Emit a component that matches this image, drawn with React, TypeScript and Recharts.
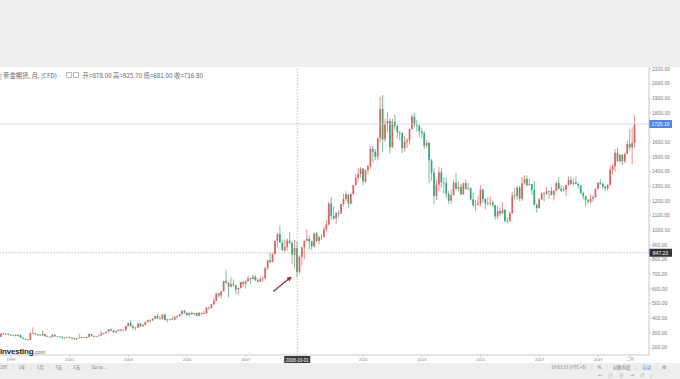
import { ComposedChart, Bar, XAxis, YAxis, ReferenceLine } from 'recharts';

const UP = '#e0625f';
const DOWN = '#35a979';
const AXIS = '#c9c9c9';
const TEXT = '#7a7a7a';
const FONT = '"Liberation Sans", "Noto Sans CJK SC", Arial, sans-serif';

// monthly gold futures candles, Sep 1998 .. Apr 2020 (index 0 = Jan 1999)
const firstIndex = -4;

const opens = [
  274, 296, 292, 294,
  288, 287, 287, 279, 286, 268, 261, 255, 254, 299, 299, 292,
  289, 283, 293, 278, 274, 272, 288, 276, 277, 274, 264, 270,
  273, 266, 267, 258, 264, 268, 271, 266, 273, 293, 279, 275,
  279, 283, 297, 302, 308, 326, 318, 304, 313, 324, 317, 318,
  348, 368, 347, 336, 337, 364, 346, 355, 375, 388, 386, 398,
  416, 400, 396, 427, 388, 394, 395, 391, 409, 416, 429, 452,
  438, 423, 437, 429, 436, 418, 437, 430, 436, 473, 470, 496,
  518, 569, 556, 584, 654, 643, 616, 634, 626, 599, 606, 648,
  636, 652, 673, 669, 684, 660, 651, 668, 673, 743, 795, 783,
  838, 928, 975, 917, 865, 888, 930, 915, 834, 878, 717, 819,
  884, 928, 942, 924, 891, 979, 927, 954, 956, 1008, 1040, 1182,
  1097, 1081, 1118, 1116, 1180, 1213, 1245, 1182, 1248, 1309, 1359, 1384,
  1421, 1333, 1410, 1439, 1556, 1536, 1502, 1628, 1828, 1620, 1725, 1746,
  1566, 1740, 1711, 1669, 1664, 1561, 1604, 1614, 1691, 1776, 1719, 1713,
  1675, 1664, 1578, 1596, 1476, 1393, 1234, 1312, 1396, 1327, 1323, 1250,
  1202, 1240, 1326, 1284, 1296, 1246, 1322, 1282, 1287, 1211, 1171, 1175,
  1184, 1278, 1213, 1183, 1184, 1190, 1172, 1095, 1132, 1115, 1141, 1065,
  1061, 1118, 1238, 1234, 1291, 1216, 1321, 1350, 1309, 1316, 1275, 1174,
  1152, 1211, 1253, 1249, 1268, 1269, 1242, 1269, 1322, 1284, 1271, 1277,
  1309, 1345, 1318, 1327, 1316, 1305, 1254, 1233, 1206, 1196, 1215, 1226,
  1283, 1325, 1316, 1298, 1286, 1311, 1413, 1437, 1529, 1472, 1514, 1472,
  1523, 1589, 1566, 1596,
];

const highs = [
  300, 305, 300, 297,
  293, 291, 290, 291, 290, 269, 264, 259, 305, 339, 302, 293,
  291, 316, 296, 285, 276, 294, 292, 280, 278, 275, 272, 275,
  274, 270, 268, 265, 295, 274, 272, 277, 296, 294, 285, 281,
  287, 312, 303, 311, 328, 331, 321, 316, 325, 325, 322, 349,
  372, 389, 353, 343, 372, 372, 363, 378, 394, 392, 400, 418,
  427, 416, 430, 430, 398, 399, 411, 416, 419, 432, 455, 458,
  440, 439, 448, 438, 439, 443, 438, 450, 476, 480, 497, 541,
  573, 576, 585, 656, 732, 646, 680, 665, 628, 610, 650, 652,
  660, 690, 675, 698, 695, 674, 683, 681, 749, 799, 848, 842,
  932, 979, 1033, 940, 938, 945, 989, 921, 934, 925.7, 830, 890,
  931, 1007, 965, 930, 983, 991, 962, 975, 1025, 1072, 1195, 1227,
  1163, 1127, 1138, 1182, 1250, 1266, 1246, 1251, 1310, 1388, 1424, 1432,
  1424, 1413, 1447, 1575, 1577, 1555, 1632, 1911, 1923, 1761, 1804, 1764,
  1764, 1792, 1720, 1677, 1668, 1641, 1628, 1693, 1789, 1798, 1755, 1726,
  1696, 1678, 1617, 1605, 1488, 1424, 1348, 1434, 1424, 1362, 1361, 1267,
  1280, 1345, 1392, 1331, 1315, 1326, 1346, 1324, 1293, 1255, 1208, 1238,
  1307, 1283, 1220, 1224, 1232, 1205, 1175, 1170, 1157, 1192, 1143, 1089,
  1128, 1263, 1287, 1304, 1306, 1362, 1377, 1375, 1352, 1318, 1338, 1183,
  1220, 1264, 1262, 1297, 1272, 1298, 1275, 1331, 1362, 1306, 1299, 1310,
  1366, 1366, 1356, 1369, 1326, 1309, 1266, 1237, 1215, 1246, 1240, 1287,
  1326, 1349, 1327, 1303, 1314, 1443, 1453, 1555, 1566, 1521, 1520, 1526,
  1611, 1689, 1704, 1788,
];

const lows = [
  272, 288, 290, 285,
  283, 283, 277, 278, 266, 257, 252, 252, 253, 295, 289, 280,
  281, 281, 276, 273, 265, 271, 275, 271, 270, 263, 262, 268,
  264, 255, 255, 254, 263, 265, 264, 265, 270, 277, 272, 271,
  277, 281, 286, 297, 306, 314, 302, 301, 311, 313, 315, 316,
  344, 344, 323, 320, 335, 340, 342, 353, 371, 368, 380, 396,
  397, 392, 392, 385, 371, 383, 389, 386, 398, 411, 424, 430,
  419, 411, 424, 421, 414, 414, 418, 428, 432, 460, 468, 490,
  516, 540, 535, 582, 637, 543, 610, 613, 562, 560, 604, 612,
  603, 650, 636, 666, 652, 642, 646, 648, 672, 726, 774, 783,
  835, 882, 913, 858, 851, 859, 906, 772, 738, 681, 701, 760,
  802, 926, 867, 865, 882, 918, 905, 932, 951, 993, 1033, 1075,
  1073, 1045, 1088, 1113, 1161, 1200, 1155, 1177, 1242, 1305, 1331, 1360,
  1308, 1324, 1381, 1418, 1462, 1478, 1478, 1601, 1532, 1603, 1666, 1523,
  1562, 1688, 1628, 1611, 1527, 1540, 1564, 1583, 1685, 1703, 1672, 1635,
  1626, 1555, 1562, 1321, 1338, 1180, 1208, 1270, 1293, 1251, 1222, 1180,
  1182, 1238, 1277, 1268, 1240, 1240, 1280, 1272, 1204, 1160, 1132, 1170,
  1167, 1190, 1142, 1170, 1170, 1162, 1072, 1080, 1098, 1110, 1052, 1046,
  1061, 1111, 1208, 1208, 1199, 1200, 1310, 1302, 1305, 1241, 1171, 1122,
  1148, 1207, 1195, 1243, 1214, 1237, 1204, 1266, 1279, 1260, 1264, 1236,
  1303, 1307, 1303, 1313, 1282, 1247, 1211, 1160, 1180, 1183, 1196, 1221,
  1276, 1310, 1281, 1267, 1268, 1306, 1385, 1400, 1465, 1461, 1446, 1458,
  1518, 1547, 1451, 1568,
];

const closes = [
  296, 292, 294, 288,
  287, 287, 279, 286, 268, 261, 255, 254, 299, 299, 292, 289,
  283, 293, 278, 274, 272, 288, 276, 277, 274, 264, 270, 273,
  266, 267, 258, 264, 268, 271, 266, 273, 293, 279, 275, 279,
  283, 297, 302, 308, 326, 318, 304, 313, 324, 317, 318, 348,
  368, 347, 336, 337, 364, 346, 355, 375, 388, 386, 398, 416,
  400, 396, 427, 388, 394, 395, 391, 409, 416, 429, 452, 438,
  423, 437, 429, 436, 418, 437, 430, 436, 473, 470, 496, 518,
  569, 556, 584, 654, 643, 616, 634, 626, 599, 606, 648, 636,
  652, 673, 669, 684, 660, 651, 668, 673, 743, 795, 783, 838,
  928, 975, 917, 865, 888, 930, 915, 834, 880, 716.8, 819, 884,
  928, 942, 924, 891, 979, 927, 954, 956, 1008, 1040, 1182, 1097,
  1081, 1118, 1116, 1180, 1213, 1245, 1182, 1248, 1309, 1359, 1384, 1421,
  1333, 1410, 1439, 1556, 1536, 1502, 1628, 1828, 1620, 1725, 1746, 1566,
  1740, 1711, 1669, 1664, 1561, 1604, 1614, 1691, 1776, 1719, 1713, 1675,
  1664, 1578, 1596, 1476, 1393, 1234, 1312, 1396, 1327, 1323, 1250, 1202,
  1240, 1326, 1284, 1296, 1246, 1322, 1282, 1287, 1211, 1171, 1175, 1184,
  1278, 1213, 1183, 1184, 1190, 1172, 1095, 1132, 1115, 1141, 1065, 1061,
  1118, 1238, 1234, 1291, 1216, 1321, 1350, 1309, 1316, 1275, 1174, 1152,
  1211, 1253, 1249, 1268, 1269, 1242, 1269, 1322, 1284, 1271, 1277, 1309,
  1345, 1318, 1327, 1316, 1305, 1254, 1233, 1206, 1196, 1215, 1226, 1283,
  1325, 1316, 1298, 1286, 1311, 1413, 1437, 1529, 1472, 1514, 1472, 1523,
  1589, 1566, 1596, 1725.1,
];

const xTickValues = [0, 24, 48, 72, 96, 144, 168, 192, 216, 240, 253];
const xTickLabels = ['1999', '2001', '2003', '2005', '2007', '2011', '2013', '2015', '2017', '2019', '二月'];
const yTicks = [200, 300, 400, 500, 600, 700, 800, 900, 1000, 1100, 1200, 1300, 1400, 1500, 1600, 1800, 1900, 2000, 2100];

const lastPrice = 1725.1;
const crossPrice = 847.23;
const crossMonth = 117;
const crossLabel = '2008-10-01';
const arrowFrom = { x: 107.2, y: 583 };
const arrowTo = { x: 114.8, y: 686 };

const data = closes.map((c, i) => ({
  t: firstIndex + i,
  open: opens[i],
  high: highs[i],
  low: lows[i],
  close: c,
  range: [lows[i], highs[i]],
}));

function Candle(props: any) {
  const { x, y, width, height, payload } = props;
  if (!payload) return null;
  const { open, close, high, low } = payload;
  const color = close >= open ? UP : DOWN;
  const h = Math.abs(height);
  const top = height >= 0 ? y : y + height;
  const k = h / (high - low || 1);
  const yo = top + (high - open) * k;
  const yc = top + (high - close) * k;
  const cx = x + width / 2;
  const bw = 1.7;
  return (
    <g>
      <line x1={cx} x2={cx} y1={top} y2={top + h} stroke={color} strokeWidth={0.7} />
      <rect x={cx - bw / 2} y={Math.min(yo, yc)} width={bw} height={Math.max(Math.abs(yo - yc), 0.7)} fill={color} />
    </g>
  );
}

function PriceTag(props: any) {
  const { viewBox, text, fill } = props;
  if (!viewBox) return null;
  const x = viewBox.x + viewBox.width;
  const y = viewBox.y;
  return (
    <g>
      <rect x={x} y={y - 4} width={23} height={8} fill={fill} />
      <text x={x + 11.5} y={y + 1.8} textAnchor="middle" fontSize={5} fill="#fff" fontFamily={FONT}>{text}</text>
    </g>
  );
}

function DateTag(props: any) {
  const { viewBox, text } = props;
  if (!viewBox) return null;
  const x = viewBox.x;
  const y = viewBox.y + viewBox.height;
  return (
    <g>
      <rect x={x - 13} y={y + 1} width={26} height={8} fill="#3a3a3a" />
      <text x={x} y={y + 6.6} textAnchor="middle" fontSize={4.5} fill="#fff" fontFamily={FONT}>{text}</text>
    </g>
  );
}

function Arrow(props: any) {
  const { x1, y1, x2, y2 } = props;
  if ([x1, y1, x2, y2].some((v) => v == null || isNaN(v))) return null;
  const a = Math.atan2(y2 - y1, x2 - x1);
  const bx = x2 - 5 * Math.cos(a);
  const by = y2 - 5 * Math.sin(a);
  const px = -Math.sin(a) * 2.4;
  const py = Math.cos(a) * 2.4;
  return (
    <g>
      <line x1={x1} y1={y1} x2={bx} y2={by} stroke="#a8292c" strokeWidth={1.2} />
      <polygon points={`${x2},${y2} ${bx + px},${by + py} ${bx - px},${by - py}`} fill="#a8292c" />
    </g>
  );
}

const sep = <span style={{ color: '#c8c8c8', margin: '0 5px' }}>|</span>;

export default function App() {
  return (
    <div style={{ position: 'absolute', left: 0, top: 0, width: 680, height: 379, background: '#efefef', overflow: 'hidden', fontFamily: FONT }}>
      <div style={{ position: 'absolute', left: 0, top: 67, width: 680, height: 296, background: '#fff' }}>
        <ComposedChart width={680} height={296} data={data} margin={{ top: 0, right: 0, bottom: 0, left: 0 }}>
          <XAxis
            dataKey="t"
            type="number"
            domain={[-4.5, 260.8]}
            allowDataOverflow
            ticks={xTickValues}
            interval={0}
            tickFormatter={(v) => xTickLabels[xTickValues.indexOf(v)] ?? ''}
            height={8}
            tickSize={2}
            tickMargin={1}
            stroke={AXIS}
            tick={{ fontSize: 4, fill: TEXT, fontFamily: FONT }}
          />
          <YAxis
            orientation="right"
            type="number"
            domain={[150, 2114]}
            allowDataOverflow
            ticks={yTicks}
            interval={0}
            tickFormatter={(v) => Number(v).toFixed(2)}
            width={31}
            tickSize={2}
            tickMargin={1}
            stroke={AXIS}
            tick={{ fontSize: 5, fill: TEXT, fontFamily: FONT, textAnchor: 'start' }}
          />
          <ReferenceLine y={lastPrice} stroke="#d2d2d2" strokeWidth={0.8} label={<PriceTag text="1725.10" fill="#4f86e6" />} />
          <ReferenceLine y={crossPrice} stroke="#9a9a9a" strokeWidth={0.6} strokeDasharray="1.5 1.5" label={<PriceTag text="847.23" fill="#333" />} />
          <ReferenceLine x={crossMonth} stroke="#9a9a9a" strokeWidth={0.6} strokeDasharray="1.5 1.5" label={<DateTag text={crossLabel} />} />
          <Bar dataKey="range" barSize={2} isAnimationActive={false} shape={(p: any) => <Candle {...p} />} />
          <ReferenceLine segment={[arrowFrom, arrowTo]} shape={(p: any) => <Arrow {...p} />} />
        </ComposedChart>
        <div style={{ position: 'absolute', left: 0, top: 5, fontSize: 6.3, color: '#666', whiteSpace: 'nowrap', lineHeight: 1, fontFamily: '"Noto Sans CJK SC", "Liberation Sans", sans-serif' }}>
          | 黄金期货, 月, (CFD) <span style={{ color: '#aaa' }}>-</span>
          <span style={{ display: 'inline-block', width: 4, height: 4, border: '0.5px solid #bbb', margin: '0 1px 0 5px' }} />
          <span style={{ display: 'inline-block', width: 4, height: 4, border: '0.5px solid #bbb', margin: '0 4px 0 0' }} />
          开=878.00 高=925.70 低=681.00 收=716.80
        </div>
        <div style={{ position: 'absolute', left: 0, top: 274, whiteSpace: 'nowrap', lineHeight: 1 }}>
          <span style={{ fontSize: 8, fontWeight: 700, color: '#1d1d1d', letterSpacing: -0.2 }}>Investing</span>
          <span style={{ fontSize: 5.5, color: '#666' }}>.com</span>
        </div>
      </div>
      <div style={{ position: 'absolute', left: 0, top: 363, width: 680, height: 9, background: '#eeeeee', fontSize: 4.5, color: '#777', lineHeight: '9px', whiteSpace: 'nowrap', fontFamily: '"Noto Sans CJK SC", "Liberation Sans", sans-serif' }}>
        <span style={{ position: 'absolute', left: 0 }}>
          20Y{sep}1年{sep}1月{sep}7天{sep}1天{sep}Go to...
        </span>
        <span style={{ position: 'absolute', left: 551 }}>
          19:03:27 (UTC+8){sep}%{sep}对数刻度{sep}<span style={{ color: '#4f86e6' }}>自动</span>{sep}⚙
        </span>
      </div>
      <div style={{ position: 'absolute', left: 598, top: 372, fontSize: 5, color: '#aaa', lineHeight: '7px', whiteSpace: 'nowrap', letterSpacing: 6 }}>
        ⇤⊖⊕⇥<span style={{ color: '#6cbf8f' }}>↺</span>⤢
      </div>
    </div>
  );
}
